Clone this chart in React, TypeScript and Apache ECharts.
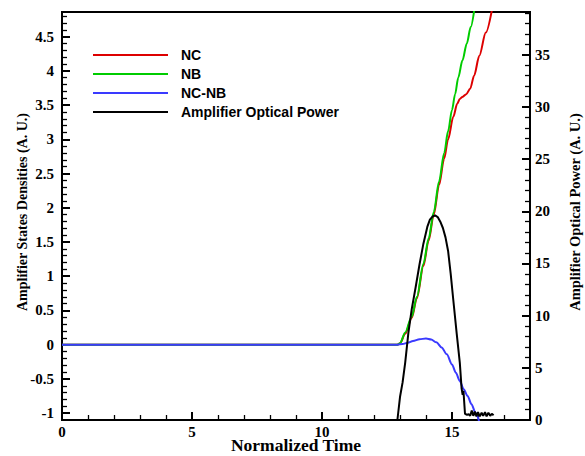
import React, { useEffect, useRef } from "react";
import * as echarts from "echarts";

const xTicks = [0, 5, 10, 15];
const leftTicks = [-1, -0.5, 0, 0.5, 1, 1.5, 2, 2.5, 3, 3.5, 4, 4.5];
const rightTicks = [0, 5, 10, 15, 20, 25, 30, 35];

const xTitle = "Normalized Time";
const leftTitle = "Amplifier States Densities (A. U.)";
const rightTitle = "Amplifier Optical Power (A. U.)";

const ncTime = [0, 12.9, 13.0, 13.2, 13.45, 13.65, 13.9, 14.1, 14.3, 14.5, 14.7, 14.85, 15.05, 15.2, 15.3, 15.4, 15.55, 15.7, 15.85, 16.05, 16.3, 16.55];
const ncValues = [0, 0, 0.02, 0.16, 0.39, 0.68, 1.15, 1.52, 1.9, 2.33, 2.72, 3.0, 3.33, 3.52, 3.59, 3.62, 3.66, 3.74, 3.93, 4.22, 4.56, 4.92];

const nbTime = [0, 12.9, 13.0, 13.2, 13.45, 13.65, 13.9, 14.1, 14.3, 14.5, 14.7, 14.85, 15.0, 15.12, 15.24, 15.4, 15.57, 15.72, 15.86];
const nbValues = [0, 0, 0.02, 0.18, 0.41, 0.7, 1.18, 1.55, 1.94, 2.38, 2.8, 3.12, 3.43, 3.66, 3.9, 4.15, 4.4, 4.64, 4.9];

const diffTime = [0, 12.9, 13.1, 13.3, 13.5, 13.75, 14.0, 14.2, 14.4, 14.6, 14.8, 15.0, 15.15, 15.3, 15.45, 15.6, 15.75, 15.9, 16.05];
const diffValues = [0, 0, 0.01, 0.03, 0.055, 0.08, 0.09, 0.075, 0.035, -0.04, -0.14, -0.29, -0.41, -0.53, -0.65, -0.75, -0.87, -0.99, -1.13];

const powerTime = [12.9, 13.0, 13.1, 13.2, 13.32, 13.45, 13.6, 13.75, 13.9, 14.05, 14.15, 14.25, 14.35, 14.45, 14.55, 14.65, 14.75, 14.85, 14.95, 15.05, 15.18, 15.3, 15.37, 15.41, 15.44, 15.5, 15.58, 15.64, 15.7, 15.76, 15.82, 15.88, 15.94, 16.0, 16.07, 16.14, 16.2, 16.27, 16.33, 16.4, 16.47, 16.53, 16.6];
const powerValues = [0, 2.2, 3.6, 5.5, 8.3, 10.6, 12.7, 14.9, 16.9, 18.5, 19.2, 19.5, 19.6, 19.45, 19.0, 18.4, 17.5, 16.2, 14.0, 11.5, 8.3, 5.5, 3.0, 2.4, 2.8, 0.6, 0.5, 0.55, 0.4, 0.9, 0.4, 0.8, 0.35, 0.75, 0.35, 0.7, 0.4, 0.75, 0.35, 0.7, 0.4, 0.6, 0.45];

const zip = (xs: number[], ys: number[]) => xs.map((x, i) => [x, ys[i]]);

const serif = "Liberation Serif";
const sans = "Liberation Sans";

const onlyTicks = (ticks: number[]) => (v: number) =>
  ticks.some((t) => Math.abs(t - v) < 1e-6) ? String(v) : "";

const mkAxisLine = (zeroIndex: number) => ({ show: true, onZero: true, onZeroAxisIndex: zeroIndex, lineStyle: { color: "#000", width: 2 } });
const mkTick = () => ({ show: true, inside: true, length: 8, lineStyle: { color: "#000", width: 2 } });
const mkMinor = () => ({ show: true, length: 5, lineStyle: { color: "#000", width: 1.3 } });
const mkLabel = (ticks: number[], margin: number) => ({
  margin,
  fontFamily: serif,
  fontWeight: "bold",
  fontSize: 15,
  color: "#000",
  formatter: onlyTicks(ticks),
});

export default function App() {
  const ref = useRef<HTMLDivElement>(null);
  useEffect(() => {
    if (!ref.current) return;
    const chart = echarts.init(ref.current, undefined, { renderer: "svg" });
    chart.setOption({
      animation: false,
      backgroundColor: "#fff",
      grid: { left: 62, right: 55, top: 12, bottom: 36, show: true, borderColor: "#000", borderWidth: 2, backgroundColor: "rgba(0,0,0,0)" },
      legend: {
        orient: "vertical",
        left: 93,
        top: 48,
        padding: 0,
        itemWidth: 75,
        itemHeight: 2,
        itemGap: 5,
        icon: "rect",
        data: ["NC", "NB", "NC-NB", "Amplifier Optical Power"],
        textStyle: { fontFamily: sans, fontWeight: "bold", fontSize: 14, color: "#000", padding: [0, 0, 0, 8] },
      },
      graphic: [
        { type: "text", x: 296, y: 445, style: { text: xTitle, fontFamily: serif, fontWeight: "bold", fontSize: 17.5, fill: "#000", align: "center", verticalAlign: "middle" } },
        { type: "text", x: 22, y: 212, rotation: Math.PI / 2, style: { text: leftTitle, fontFamily: serif, fontWeight: "bold", fontSize: 14, fill: "#000", align: "center", verticalAlign: "middle" } },
        { type: "text", x: 575, y: 212, rotation: Math.PI / 2, style: { text: rightTitle, fontFamily: serif, fontWeight: "bold", fontSize: 14.5, fill: "#000", align: "center", verticalAlign: "middle" } },
      ],
      xAxis: [
        {
          type: "value",
          min: 0,
          max: 18,
          interval: 5,
          axisLine: mkAxisLine(1),
          axisTick: mkTick(),
          minorTick: mkMinor(),
          axisLabel: mkLabel(xTicks, 4),
          splitLine: { show: false },
        },
        {
          type: "value",
          show: false,
          min: -18,
          max: 0,
          axisLine: { onZero: false },
          splitLine: { show: false },
        },
      ],
      yAxis: [
        {
          type: "value",
          min: -1.1,
          max: 4.86,
          splitNumber: 10,
          axisLine: mkAxisLine(0),
          axisTick: mkTick(),
          minorTick: mkMinor(),
          axisLabel: mkLabel(leftTicks, 8),
          splitLine: { show: false },
        },
        {
          type: "value",
          min: 0,
          max: 39.1,
          interval: 5,
          axisLine: mkAxisLine(1),
          axisTick: mkTick(),
          minorTick: mkMinor(),
          axisLabel: mkLabel(rightTicks, 5),
          splitLine: { show: false },
        },
      ],
      series: [
        { name: "NC", type: "line", data: zip(ncTime, ncValues), showSymbol: false, smooth: 0.3, smoothMonotone: "x", lineStyle: { color: "#dd0000", width: 2 }, itemStyle: { color: "#dd0000" } },
        { name: "NB", type: "line", data: zip(nbTime, nbValues), showSymbol: false, smooth: 0.3, smoothMonotone: "x", lineStyle: { color: "#00cc00", width: 2 }, itemStyle: { color: "#00cc00" } },
        { name: "NC-NB", type: "line", data: zip(diffTime, diffValues), showSymbol: false, smooth: 0.3, smoothMonotone: "x", lineStyle: { color: "#3a3aff", width: 2 }, itemStyle: { color: "#3a3aff" } },
        { name: "Amplifier Optical Power", type: "line", yAxisIndex: 1, data: zip(powerTime, powerValues), showSymbol: false, lineStyle: { color: "#000", width: 2 }, itemStyle: { color: "#000" } },
      ],
    });
    return () => chart.dispose();
  }, []);
  return <div ref={ref} style={{ width: 585, height: 456, position: "absolute", left: 0, top: 0 }} />;
}
